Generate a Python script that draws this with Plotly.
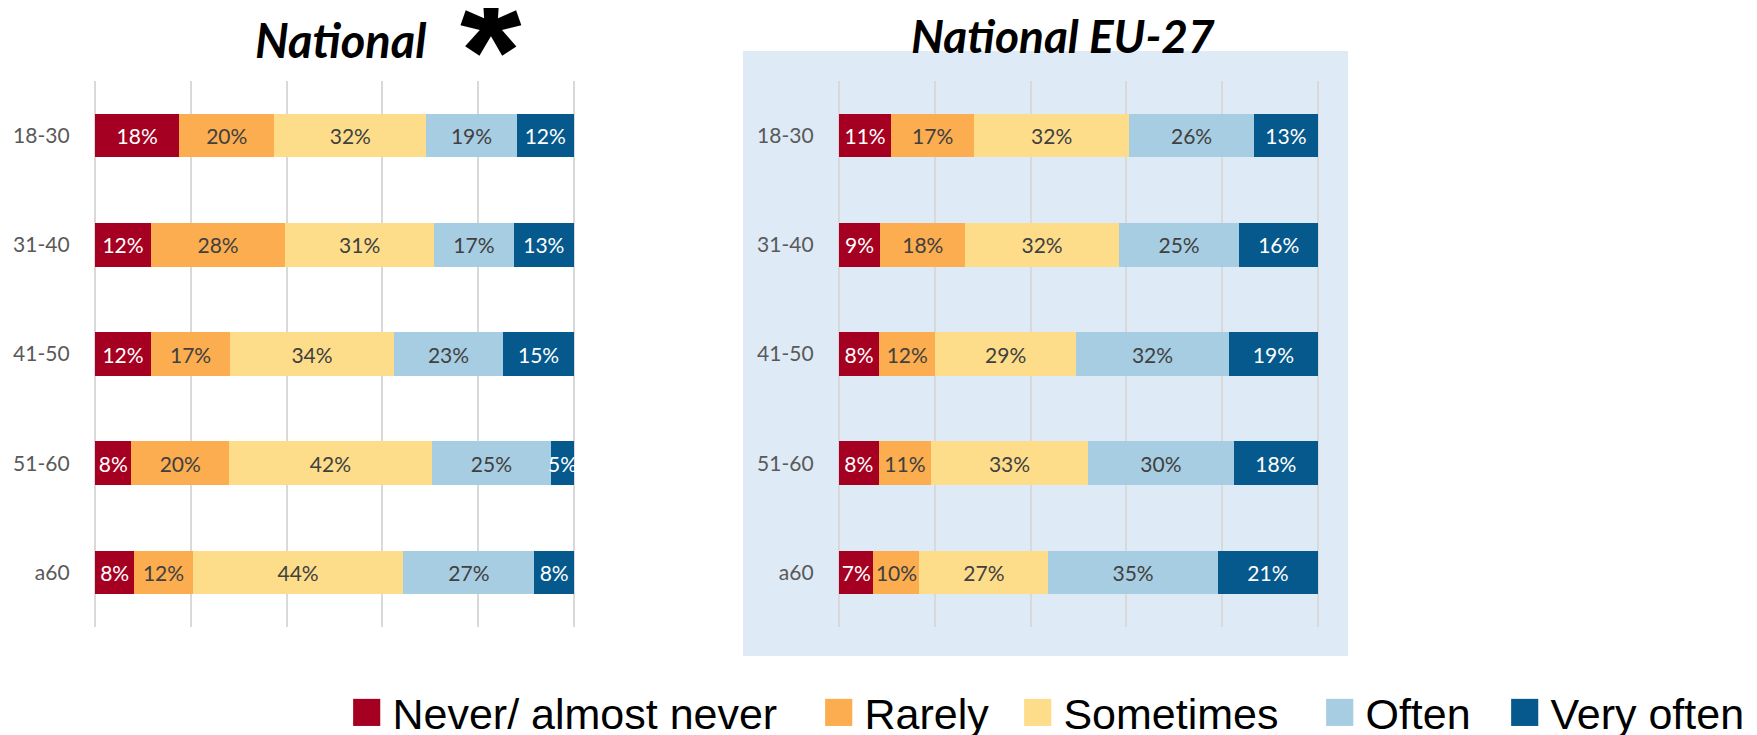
import plotly.graph_objects as go

ages = ["18-30", "31-40", "41-50", "51-60", "a60"]
answers = ["Never/ almost never", "Rarely", "Sometimes", "Often", "Very often"]
colors = ["#A50021", "#FBAD4F", "#FDDD8A", "#A7CDE2", "#05598C"]
text_colors = ["white", "#404040", "#404040", "#404040", "white"]

# shares per age group, one list per answer
national = [
    [17.6, 11.7, 11.7, 7.6, 8.2],
    [19.8, 28.0, 16.5, 20.4, 12.2],
    [31.8, 31.1, 34.2, 42.3, 44.0],
    [18.8, 16.6, 22.8, 24.9, 27.3],
    [12.0, 12.6, 14.8, 4.8, 8.3],
]
eu27 = [
    [10.9, 8.6, 8.4, 8.3, 7.2],
    [17.3, 17.8, 11.7, 10.9, 9.6],
    [32.4, 32.0, 29.4, 32.8, 26.9],
    [26.0, 25.2, 31.9, 30.4, 35.4],
    [13.4, 16.4, 18.6, 17.6, 20.9],
]

# page is 1757x735, the html body adds an 8px margin
W, H, M = 1757, 735, 8
FW, FH = W - M, H - M


def px(x):
    return (x - M) / FW


def py(y):
    return 1 - (y - M) / FH


lab_font = "Lato, Carlito, Calibri, sans-serif"

fig = go.Figure()
for data, xa, ya in [(national, "x", "y"), (eu27, "x2", "y2")]:
    for i, name in enumerate(answers):
        vals = [v / 100 for v in data[i]]
        fig.add_trace(go.Bar(
            y=ages, x=vals, orientation="h", name=name,
            marker=dict(color=colors[i], line=dict(width=0)),
            texttemplate="%{x:.0%}", textposition="inside",
            insidetextanchor="middle", textangle=0, constraintext="none",
            textfont=dict(family=lab_font, size=21, color=text_colors[i]),
            xaxis=xa, yaxis=ya, showlegend=False,
        ))

# small padding on the range so the 0% and 100% gridlines are drawn
pad = 0.005
ext = 479 * pad
ax = dict(range=[-pad, 1 + pad], tickvals=[0, 0.2, 0.4, 0.6, 0.8, 1],
          showticklabels=False, showgrid=True, gridcolor="#D9D9D9",
          gridwidth=2, zeroline=False, fixedrange=True)
ay = dict(autorange="reversed", showgrid=False, ticks="", ticklabelstandoff=22,
          tickfont=dict(family=lab_font, size=21, color="#595959"),
          domain=[py(627), py(81)])

fig.update_layout(
    width=FW, height=FH,
    margin=dict(l=0, r=0, t=0, b=0),
    barmode="stack", bargap=0.6,
    paper_bgcolor="white", plot_bgcolor="rgba(0,0,0,0)",
    xaxis=dict(ax, domain=[px(95 - ext), px(574 + ext)]),
    xaxis2=dict(ax, domain=[px(839 - ext), px(1318 + ext)]),
    yaxis=dict(ay, anchor="x"),
    yaxis2=dict(ay, anchor="x2"),
)

# light blue panel behind the EU-27 chart
fig.add_shape(type="rect", xref="paper", yref="paper",
              x0=px(743), x1=px(1348), y0=py(656), y1=py(51),
              fillcolor="#DEEAF6", line=dict(width=0), layer="below")

title_font = dict(family="Lato, sans-serif", size=46, color="black",
                  weight="bold", style="italic")
fig.add_annotation(text="National", xref="paper", yref="paper",
                   x=px(340), y=py(40), xanchor="center", yanchor="middle",
                   showarrow=False, font=dict(title_font, size=47))
fig.add_annotation(text="National EU-27", xref="paper", yref="paper",
                   x=px(1063), y=py(36), xanchor="center", yanchor="middle",
                   showarrow=False, font=title_font)
fig.add_annotation(text="*", xref="paper", yref="paper",
                   x=px(491), y=py(-39), xanchor="center", yanchor="top",
                   showarrow=False,
                   font=dict(family="Liberation Sans, Arial, sans-serif",
                             size=158, color="black", weight="bold"))

# legend row
leg_x = [348, 820, 1019, 1321, 1506]
for name, c, lx in zip(answers, colors, leg_x):
    fig.add_annotation(
        text=f"<span style='color:{c};font-size:56px'>■</span>\u2009{name}",
        xref="paper", yref="paper", x=px(lx), y=py(709),
        xanchor="left", yanchor="middle", showarrow=False,
        font=dict(family="Liberation Sans, Arial, DejaVu Sans, sans-serif",
                  size=43, color="black"),
    )

fig.write_html("out.html")
